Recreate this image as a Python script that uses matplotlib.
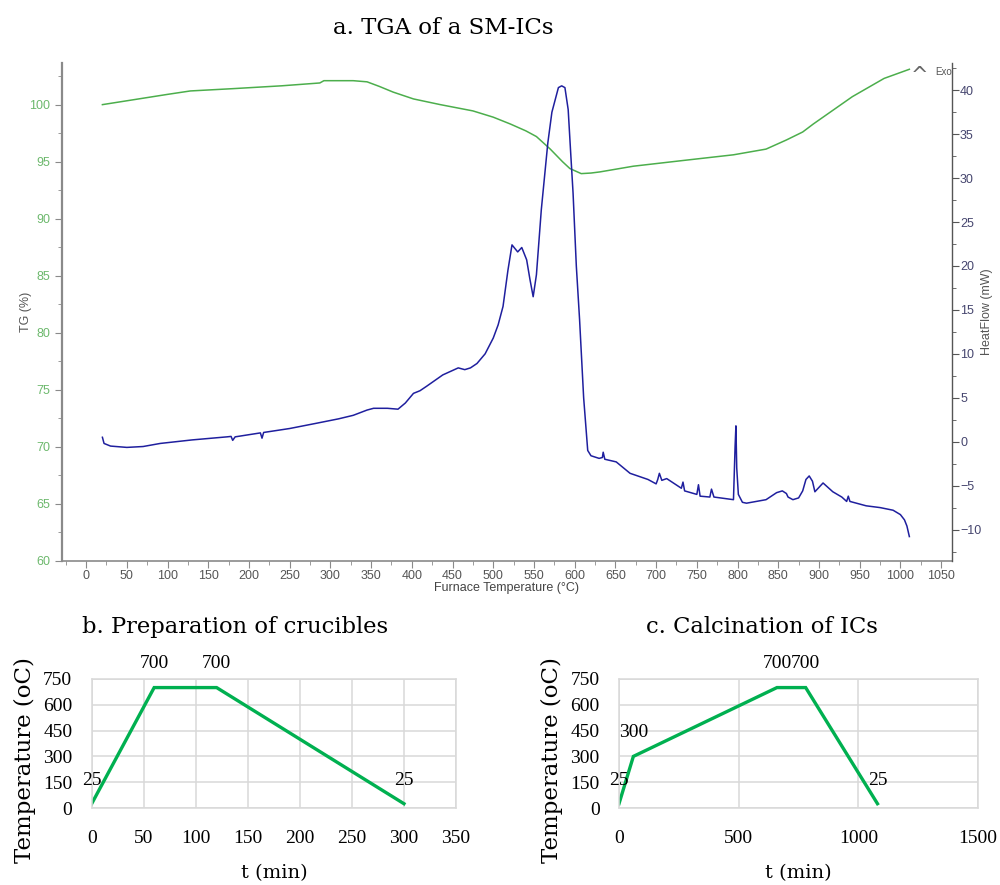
import matplotlib
matplotlib.use("Agg")
import matplotlib.pyplot as plt
from matplotlib.ticker import MultipleLocator

# ---------------- data ----------------
tg_temp = [20, 60, 100, 128, 180, 240, 287, 292, 328, 345, 360, 377, 402, 435, 475,
           500, 521, 540, 553, 570, 585, 594, 608, 620, 631, 672, 733, 795, 835, 860,
           880, 893, 941, 980, 1011]
tg_val = [100.0, 100.45, 100.9, 101.2, 101.4, 101.65, 101.9, 102.1, 102.1, 102.0, 101.6,
          101.1, 100.5, 100.0, 99.45, 98.9, 98.3, 97.7, 97.2, 96.1, 95.0, 94.4, 93.95,
          94.0, 94.1, 94.6, 95.1, 95.6, 96.1, 96.9, 97.6, 98.3, 100.7, 102.3, 103.1]

hf_temp = [20, 22, 30, 50, 70, 91, 130, 173, 178, 180, 183, 214, 216, 218, 250, 283, 310,
           328, 345, 353, 370, 383, 392, 402, 410, 418, 438, 457, 465, 472, 480, 490,
           500, 506, 512, 518, 523, 530, 535, 541, 545, 549, 553, 559, 567, 572, 576,
           580, 584, 588, 592, 595, 598, 602, 606, 611, 616, 620, 630, 634, 635, 637,
           651, 668, 690, 700, 702, 704, 707, 713, 731, 733, 735, 750, 752, 754, 766,
           768, 771, 795, 797, 798, 799, 801, 806, 811, 835, 848, 855, 860, 862, 868,
           875, 880, 884, 888, 892, 895, 900, 905, 917, 928, 934, 936, 938, 958, 975,
           991, 1000, 1005, 1008, 1011]
hf_val = [0.5, -0.2, -0.5, -0.65, -0.55, -0.2, 0.2, 0.55, 0.6, 0.15, 0.55, 1.0, 0.4, 1.05,
          1.5, 2.1, 2.6, 3.0, 3.6, 3.8, 3.8, 3.7, 4.4, 5.5, 5.8, 6.3, 7.6, 8.4, 8.2, 8.4,
          8.9, 10.0, 11.8, 13.3, 15.4, 19.5, 22.4, 21.6, 22.1, 20.7, 18.5, 16.5, 19.0,
          26.4, 34.0, 37.5, 38.9, 40.3, 40.5, 40.3, 37.8, 33.0, 28.3, 20.0, 13.9, 5.0,
          -1.0, -1.6, -1.9, -1.8, -1.2, -2.0, -2.3, -3.6, -4.3, -4.8, -4.3, -3.6, -4.4,
          -4.2, -5.3, -4.6, -5.6, -6.0, -4.9, -6.2, -6.3, -5.4, -6.3, -6.6, -0.5, 1.8,
          -3.0, -6.0, -6.9, -7.0, -6.6, -5.8, -5.6, -5.9, -6.3, -6.6, -6.4, -5.6, -4.3,
          -3.9, -4.5, -5.7, -5.2, -4.7, -5.7, -6.3, -6.8, -6.2, -6.8, -7.3, -7.5, -7.8,
          -8.3, -8.9, -9.6, -10.8]

b_time = [0, 60, 120, 300]
b_temp = [25, 700, 700, 25]
c_time = [0, 60, 660, 780, 1080]
c_temp = [25, 300, 700, 700, 25]

x_ticks_top = list(range(0, 1051, 50))
tg_ticks = list(range(60, 101, 5))
hf_ticks = list(range(-10, 41, 5))
y_ticks_bottom = [0, 150, 300, 450, 600, 750]
b_xticks = [0, 50, 100, 150, 200, 250, 300, 350]
c_xticks = [0, 500, 1000, 1500]

# ---------------- style ----------------
SANS = ['Liberation Sans Narrow', 'Liberation Sans', 'DejaVu Sans']
SERIF = ['Liberation Serif', 'DejaVu Serif']
SERIF_WIDE = ['DejaVu Serif']
TG_COLOR = '#4cae4c'
HF_COLOR = '#1f1f9e'
TG_TICK = '#6cb86c'
HF_TICK = '#45456e'
GRAY = '#8a8a8a'
LINE_GREEN = '#00b050'
GRID = '#d9d9d9'

fig = plt.figure(figsize=(10, 8.85), dpi=100)

# ---------------- panel a ----------------
ax = fig.add_axes([0.0617, 0.3664, 0.89, 0.5624])
ax.plot(tg_temp, tg_val, color=TG_COLOR, lw=1.1)
ax.set_xlim(-30, 1063)
ax.set_ylim(60, 103.65)
ax.set_xticks(x_ticks_top)
ax.xaxis.set_minor_locator(MultipleLocator(25))
ax.set_yticks(tg_ticks)
ax.yaxis.set_minor_locator(MultipleLocator(2.5))
for s in ['top', 'right']:
    ax.spines[s].set_visible(False)
ax.spines['left'].set_color(GRAY)
ax.spines['left'].set_linewidth(1.6)
ax.spines['bottom'].set_color(GRAY)
ax.spines['bottom'].set_linewidth(1.2)
ax.tick_params(axis='y', which='both', colors=GRAY, labelcolor=TG_TICK, direction='out')
ax.tick_params(axis='y', which='major', length=5)
ax.tick_params(axis='y', which='minor', length=3)
ax.tick_params(axis='x', which='both', colors=GRAY, labelcolor='#555555', direction='out')
ax.tick_params(axis='x', which='major', length=5, pad=2)
ax.tick_params(axis='x', which='minor', length=3)
for lab in ax.get_xticklabels() + ax.get_yticklabels():
    lab.set_fontfamily(SANS)
    lab.set_fontsize(9)
ax.set_xlabel('Furnace Temperature (°C)', family=SANS, fontsize=9, color='#444444', labelpad=0)
ax.set_ylabel('TG (%)', family=SANS, fontsize=9, color='#555555', labelpad=-2)

ax2 = ax.twinx()
ax2.plot(hf_temp, hf_val, color=HF_COLOR, lw=1.1)
ax2.set_ylim(-13.55, 43.1)
ax2.set_yticks(hf_ticks)
ax2.yaxis.set_minor_locator(MultipleLocator(2.5))
for s in ['top', 'left', 'bottom']:
    ax2.spines[s].set_visible(False)
ax2.spines['right'].set_color('#555555')
ax2.spines['right'].set_linewidth(1.0)
ax2.tick_params(axis='y', which='both', colors='#555555', labelcolor=HF_TICK, direction='out')
ax2.tick_params(axis='y', which='major', length=5, pad=1)
ax2.tick_params(axis='y', which='minor', length=3)
for lab in ax2.get_yticklabels():
    lab.set_fontfamily(SANS)
    lab.set_fontsize(9)
ax2.set_ylabel('HeatFlow (mW)', family=SANS, fontsize=9, color='#555555', labelpad=0)

fig.text(0.920, 0.914, '^', family='DejaVu Sans', fontsize=15, color='#666666',
         ha='center', va='center')
fig.text(0.935, 0.919, 'Exo', family=SANS, fontsize=7, color='#555555', ha='left', va='center')

fig.text(0.443, 0.968, 'a. TGA of a SM-ICs', family=SERIF_WIDE, fontsize=16.5,
         ha='center', va='center')

# ---------------- panels b, c ----------------
def ramp_panel(rect, t, temp, xlim, xticks, title, title_x):
    a = fig.add_axes(rect)
    a.plot(t, temp, color=LINE_GREEN, lw=2.4, solid_joinstyle='miter')
    a.set_xlim(*xlim)
    a.set_ylim(0, 750)
    a.set_xticks(xticks)
    a.set_yticks(y_ticks_bottom)
    a.grid(True, color=GRID, lw=1.1)
    a.set_axisbelow(True)
    for s in a.spines.values():
        s.set_color(GRID)
        s.set_linewidth(1.1)
    a.tick_params(length=0, labelsize=14)
    a.tick_params(axis='y', pad=14)
    a.tick_params(axis='x', pad=16)
    for lab in a.get_xticklabels() + a.get_yticklabels():
        lab.set_fontfamily(SERIF)
    a.set_xlabel('t (min)', family=SERIF_WIDE, fontsize=14, labelpad=12)
    a.set_ylabel('Temperature (oC)', family=SERIF_WIDE, fontsize=16.5, labelpad=5, y=0.375)
    for xi, yi in zip(t, temp):
        a.annotate(str(yi), (xi, yi), xytext=(0, 17), textcoords='offset points',
                   ha='center', va='center', family=SERIF, fontsize=14, annotation_clip=False)
    fig.text(title_x, 0.292, title, family=SERIF_WIDE, fontsize=16.3, ha='center', va='center')
    return a

ramp_panel([0.0917, 0.0870, 0.3643, 0.1458], b_time, b_temp, (0, 350), b_xticks,
           'b. Preparation of crucibles', 0.235)
ramp_panel([0.619, 0.0870, 0.359, 0.1458], c_time, c_temp, (0, 1500), c_xticks,
           'c. Calcination of ICs', 0.762)

fig.savefig('out.png', dpi=100)
